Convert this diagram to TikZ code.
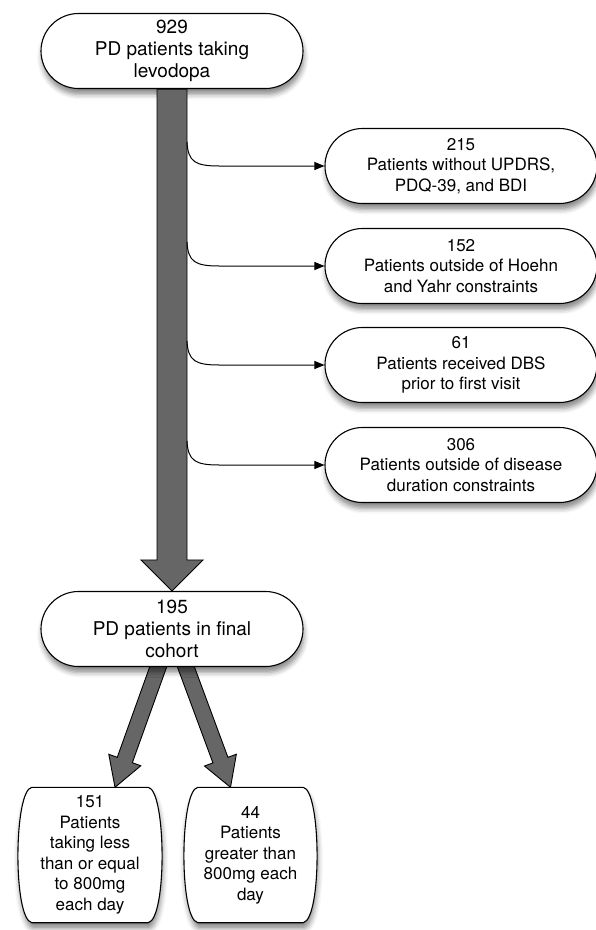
\documentclass[tikz,border=0pt]{standalone}
\usepackage{fontspec}
\setmainfont{TeX Gyre Heros}
\usetikzlibrary{calc,arrows.meta,shapes.misc,shadows.blur,backgrounds}
\def\fatarrow[#1](#2)(#3)(#4:#5:#6){%
	\coordinate (fah) at ($(#3)!#6!(#2)$);
	\filldraw[#1] ($(#2)!#4!90:(#3)$) -- ($(fah)!#4!90:(#3)$) -- ($(fah)!#5!90:(#3)$) -- (#3)
		-- ($(fah)!#5!-90:(#3)$) -- ($(fah)!#4!-90:(#3)$) -- ($(#2)!#4!-90:(#3)$) -- cycle;}
\def\barrel(#1){%
	\draw[barrel] ([xshift=15pt]#1.north west) -- ([xshift=-15pt]#1.north east)
		.. controls ([xshift=3pt,yshift=-3pt]#1.north east) and ([xshift=4pt,yshift=4pt]#1.south east) .. ([xshift=-15pt]#1.south east)
		-- ([xshift=15pt]#1.south west)
		.. controls ([xshift=-4pt,yshift=4pt]#1.south west) and ([xshift=-3pt,yshift=-3pt]#1.north west) .. ([xshift=15pt]#1.north west) -- cycle;}

\begin{document}
\begin{tikzpicture}[x=1pt, y=-1pt, font=\fontsize{17}{20.5}\selectfont,
	softshadow/.style={blur shadow={shadow xshift=1pt, shadow yshift=-6pt, shadow blur radius=5pt, shadow opacity=45}},
	stadium/.style={rounded rectangle, draw, line width=1.1pt, fill=white, align=center, inner sep=0pt, minimum height=75pt, softshadow},
	bigtext/.style={font=\fontsize{19}{22}\selectfont},
	boxtext/.style={align=center, inner sep=0pt, minimum height=135pt},
	barrel/.style={draw, line width=1.1pt, fill=white, softshadow},
	fatarrow/.style={draw=black, line width=0.9pt, fill=black!60, line join=miter},
	link/.style={line width=1pt, -{Triangle[length=10pt,width=8pt]}}]
			%%%%% START %%%%%
			\useasboundingbox (0,0) rectangle (595,930);
			
			\node[stadium, bigtext, minimum width=262pt] (top) at (172, 51) {929\\PD patients taking\\levodopa};
			\node[stadium, bigtext, minimum width=262pt] (final) at (172, 629) {195\\PD patients in final\\cohort};
			
			\node[stadium, minimum width=272pt] (ex1) at (461, 166) {215\\Patients without UPDRS,\\PDQ-39, and BDI};
			\node[stadium, minimum width=272pt] (ex2) at (461, 266) {152\\Patients outside of Hoehn\\and Yahr constraints};
			\node[stadium, minimum width=272pt] (ex3) at (461, 365) {61\\Patients received DBS\\prior to first visit};
			\node[stadium, minimum width=272pt] (ex4) at (461, 465) {306\\Patients outside of disease\\duration constraints};
			
			\node[boxtext, minimum width=146pt] (lo) at (90, 855) {151\\Patients\\taking less\\than or equal\\to 800mg\\each day};
			\node[boxtext, minimum width=135pt] (hi) at (250.5, 855) {44\\Patients\\greater than\\800mg each\\day};
			
			% main flow
			\fatarrow[fatarrow](top.south)(final.north)(15pt:31pt:31pt);
			
			% exclusions
			\coordinate (b1) at (187, 142);
			\coordinate (b2) at (187, 242);
			\coordinate (b3) at (187, 341);
			\coordinate (b4) at (187, 441);
			\draw[link] (b1) .. controls ($(b1)+(1,20)$) and ($(ex1.west)+(-129,0)$) .. ($(ex1.west)+(-105,0)$) -- (ex1.west);
			\draw[link] (b2) .. controls ($(b2)+(1,20)$) and ($(ex2.west)+(-129,0)$) .. ($(ex2.west)+(-105,0)$) -- (ex2.west);
			\draw[link] (b3) .. controls ($(b3)+(1,20)$) and ($(ex3.west)+(-129,0)$) .. ($(ex3.west)+(-105,0)$) -- (ex3.west);
			\draw[link] (b4) .. controls ($(b4)+(1,20)$) and ($(ex4.west)+(-129,0)$) .. ($(ex4.west)+(-105,0)$) -- (ex4.west);
			
			% split by dose
			\coordinate (lofrom) at ($(final.south)+(-11,-8)$);
			\coordinate (hifrom) at ($(final.south)+(11,-8)$);
			\coordinate (loto) at ($(lo.north)+(25,0)$);
			\coordinate (hito) at ($(hi.north)+(-20,0)$);
			\begin{scope}[on background layer]
				\barrel(lo);
				\barrel(hi);
				\fatarrow[fatarrow](lofrom)(loto)(8pt:17pt:29pt);
				\fatarrow[fatarrow](hifrom)(hito)(8pt:17pt:29pt);
			\end{scope}
			
			%%%%% END %%%%%
		\end{tikzpicture}
\end{document}
